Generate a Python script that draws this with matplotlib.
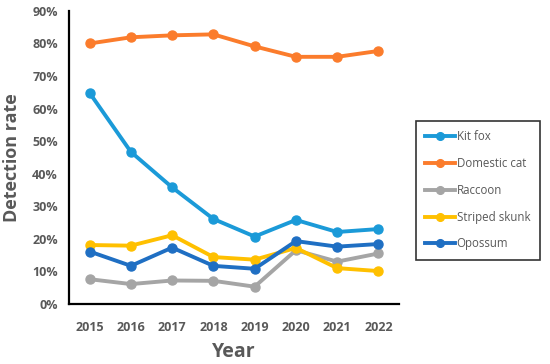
import numpy as np
import matplotlib
matplotlib.use('Agg')
import matplotlib.pyplot as plt
from matplotlib.ticker import PercentFormatter

# detection rates (%) per year
years = ['2015', '2016', '2017', '2018', '2019', '2020', '2021', '2022']
kit_fox = [64.8, 46.7, 35.8, 26.1, 20.7, 25.8, 22.1, 23.0]
domestic_cat = [80.0, 81.9, 82.5, 82.8, 79.1, 75.9, 75.9, 77.7]
raccoon = [7.6, 6.1, 7.2, 7.1, 5.3, 16.5, 13.0, 15.5]
striped_skunk = [18.1, 17.9, 21.1, 14.4, 13.6, 17.2, 11.0, 10.1]
opossum = [16.1, 11.7, 17.3, 11.7, 10.8, 19.3, 17.6, 18.4]

series = [
    ('Kit fox', kit_fox, '#1b9ad8'),
    ('Domestic cat', domestic_cat, '#fb7c2c'),
    ('Raccoon', raccoon, '#a5a5a5'),
    ('Striped skunk', striped_skunk, '#ffc000'),
    ('Opossum', opossum, '#1f6fc3'),
]

plt.rcParams['font.family'] = ['Open Sans', 'DejaVu Sans']
grey = '#595959'

fig = plt.figure(figsize=(5.5, 3.64), dpi=100)
ax = fig.add_axes([0.1255, 0.165, 0.6, 0.805])

x = np.arange(len(years))
for name, vals, col in series:
    ax.plot(x, vals, color=col, lw=2.8, marker='o', ms=6.5, label=name)

ax.set_xlim(-0.5, 7.5)
ax.set_ylim(0, 90)
ax.set_yticks(np.arange(0, 91, 10))
ax.yaxis.set_major_formatter(PercentFormatter(decimals=0))
ax.set_xticks(x)
ax.set_xticklabels(years)
ax.tick_params(length=0, labelsize=9, labelcolor=grey, pad=8)
for lab in ax.get_xticklabels() + ax.get_yticklabels():
    lab.set_fontweight('bold')
ax.tick_params(axis='x', pad=12)

for s in ['top', 'right']:
    ax.spines[s].set_visible(False)
for s in ['left', 'bottom']:
    ax.spines[s].set_linewidth(1.6)
    ax.spines[s].set_color('black')

ax.set_xlabel('Year', fontsize=14, fontweight='bold', color=grey, labelpad=6)
ax.set_ylabel('Detection rate', fontsize=13, fontweight='bold', color=grey, labelpad=8)

leg = fig.legend(loc='upper left', bbox_to_anchor=(0.756, 0.668), frameon=True,
                 fancybox=False, edgecolor='black', fontsize=8.3, handlelength=2.6,
                 labelspacing=1.2, borderpad=0.8, handletextpad=0.15, borderaxespad=0,
                 markerscale=0.85)
leg.get_frame().set_linewidth(1.2)
for t in leg.get_texts():
    t.set_color(grey)

fig.savefig('out.png', dpi=100)
